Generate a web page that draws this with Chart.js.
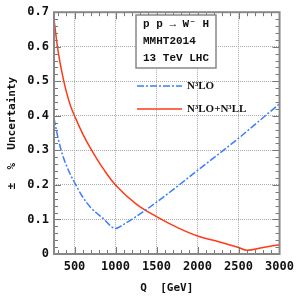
<!DOCTYPE html>
<html>
<head>
<meta charset="utf-8">
<script src="https://cdn.jsdelivr.net/npm/chart.js@4/dist/chart.umd.min.js"></script>
<style>
  body { margin: 0; background: #fff; }
  canvas { display: block; }
</style>
</head>
<body>
<canvas id="uncChart" width="300" height="300"></canvas>
<script>
// values
var qN3LO = [250, 300, 350, 400, 450, 500, 600, 700, 850, 1000, 1100, 1250, 1500, 1750, 2000, 2250, 2500, 2750, 3000];
var uncN3LO = [0.393, 0.335, 0.29, 0.257, 0.23, 0.207, 0.165, 0.134, 0.103, 0.074, 0.086, 0.108, 0.15, 0.195, 0.242, 0.288, 0.335, 0.385, 0.435];

var qN3LL = [250, 300, 350, 400, 450, 500, 600, 710, 850, 1000, 1250, 1500, 1750, 2000, 2250, 2500, 2600, 2800, 3000];
var uncN3LL = [0.68, 0.587, 0.522, 0.47, 0.43, 0.40, 0.348, 0.30, 0.247, 0.20, 0.145, 0.108, 0.077, 0.052, 0.036, 0.019, 0.011, 0.019, 0.027];

var xTicks = [500, 1000, 1500, 2000, 2500, 3000];
var yTicks = [0, 0.1, 0.2, 0.3, 0.4, 0.5, 0.6, 0.7];
var infoLines = ['p p \u2192 W\u207B H', 'MMHT2014', '13 TeV LHC'];
var seriesNames = ['N\u00B3LO', 'N\u00B3LO+N\u00B3LL'];

function toPoints(xs, ys) {
    return xs.map(function(x, i) { return {x: x, y: ys[i]}; });
}

var monoFont = "'DejaVu Sans Mono', monospace";

// frame, inward ticks, info box and legend
var decorPlugin = {
    id: 'decor',
    afterDraw: function(chart) {
        var c = chart.ctx;
        var a = chart.chartArea;
        var xs = chart.scales.x, ys = chart.scales.y;
        c.save();
        c.strokeStyle = '#777';
        c.lineWidth = 1;
        // x ticks every 100, major every 500
        for (var v = 300; v < 3000; v += 100) {
            var px = Math.round(xs.getPixelForValue(v)) + 0.5;
            var len = (v % 500 === 0) ? 7 : 4;
            c.beginPath();
            c.moveTo(px, a.bottom); c.lineTo(px, a.bottom - len);
            c.moveTo(px, a.top); c.lineTo(px, a.top + len);
            c.stroke();
        }
        // y ticks every 0.02
        for (var k = 1; k < 35; k++) {
            var py = Math.round(ys.getPixelForValue(k * 0.02)) + 0.5;
            var l = (k % 5 === 0) ? 7 : 4;
            c.beginPath();
            c.moveTo(a.left, py); c.lineTo(a.left + l, py);
            c.moveTo(a.right, py); c.lineTo(a.right - l, py);
            c.stroke();
        }
        // frame
        c.strokeStyle = '#888';
        c.lineWidth = 2;
        c.strokeRect(a.left, a.top, a.right - a.left, a.bottom - a.top);

        // info box
        var bx = 136, by = 15, bw = 80, bh = 53;
        c.fillStyle = '#fff';
        c.fillRect(bx, by, bw, bh);
        c.strokeStyle = '#888';
        c.lineWidth = 1.5;
        c.strokeRect(bx, by, bw, bh);
        c.fillStyle = '#111';
        c.font = "bold 11px 'Liberation Mono', monospace";
        c.textBaseline = 'middle';
        c.textAlign = 'left';
        c.fillText(infoLines[0], 143, 24);
        c.fillText(infoLines[1], 143, 41);
        c.fillText(infoLines[2], 143, 58);

        // legend
        var rows = [86, 109];
        chart.data.datasets.forEach(function(ds, i) {
            c.beginPath();
            c.strokeStyle = ds.borderColor;
            c.lineWidth = ds.borderWidth;
            c.setLineDash(ds.borderDash || []);
            c.moveTo(137, rows[i]);
            c.lineTo(182, rows[i]);
            c.stroke();
            c.setLineDash([]);
            c.fillStyle = '#111';
            c.font = "bold 11px 'Liberation Serif', serif";
            c.fillText(ds.label, 187, rows[i]);
        });
        c.restore();
    }
};

var ctx = document.getElementById('uncChart').getContext('2d');

var chart = new Chart(ctx, {
    type: 'line',
    data: {
        datasets: [{
            label: seriesNames[0],
            data: toPoints(qN3LO, uncN3LO),
            borderColor: '#3a7dff',
            borderWidth: 1.5,
            borderDash: [7, 2, 2, 2],
            pointRadius: 0,
            fill: false,
            cubicInterpolationMode: 'monotone'
        }, {
            label: seriesNames[1],
            data: toPoints(qN3LL, uncN3LL),
            borderColor: '#ff3a17',
            borderWidth: 1.5,
            pointRadius: 0,
            fill: false,
            tension: 0.4
        }]
    },
    options: {
        responsive: false,
        animation: false,
        layout: { padding: { top: 9, right: 18, left: 0, bottom: 0 } },
        plugins: {
            legend: { display: false },
            tooltip: { enabled: false }
        },
        scales: {
            x: {
                type: 'linear',
                min: 250,
                max: 3000,
                afterBuildTicks: function(scale) {
                    scale.ticks = xTicks.map(function(v) { return {value: v}; });
                },
                afterFit: function(scale) { scale.height = 46; },
                grid: { color: '#aaa', lineWidth: 1, drawTicks: false },
                border: { display: false, dash: [1, 1] },
                ticks: {
                    padding: 6,
                    maxRotation: 0,
                    color: '#111',
                    font: { family: monoFont, size: 12, weight: 'bold' },
                    callback: function(v) { return String(v); }
                },
                title: {
                    display: true,
                    text: 'Q  [GeV]',
                    color: '#111',
                    padding: { top: 4, bottom: 5 },
                    font: { family: monoFont, size: 11, weight: 'bold' }
                }
            },
            y: {
                min: 0,
                max: 0.7,
                afterBuildTicks: function(scale) {
                    scale.ticks = yTicks.map(function(v) { return {value: v}; });
                },
                afterFit: function(scale) { scale.width = 54; },
                grid: { color: '#aaa', lineWidth: 1, drawTicks: false },
                border: { display: false, dash: [1, 1] },
                ticks: {
                    padding: 5,
                    color: '#111',
                    font: { family: monoFont, size: 12, weight: 'bold' },
                    callback: function(v) { return v === 0 ? '0' : v.toFixed(1); }
                },
                title: {
                    display: true,
                    text: '\u00B1  %  Uncertainty',
                    color: '#111',
                    padding: { top: 6, bottom: 2 },
                    font: { family: monoFont, size: 11, weight: 'bold' }
                }
            }
        }
    },
    plugins: [decorPlugin]
});
</script>
</body>
</html>
